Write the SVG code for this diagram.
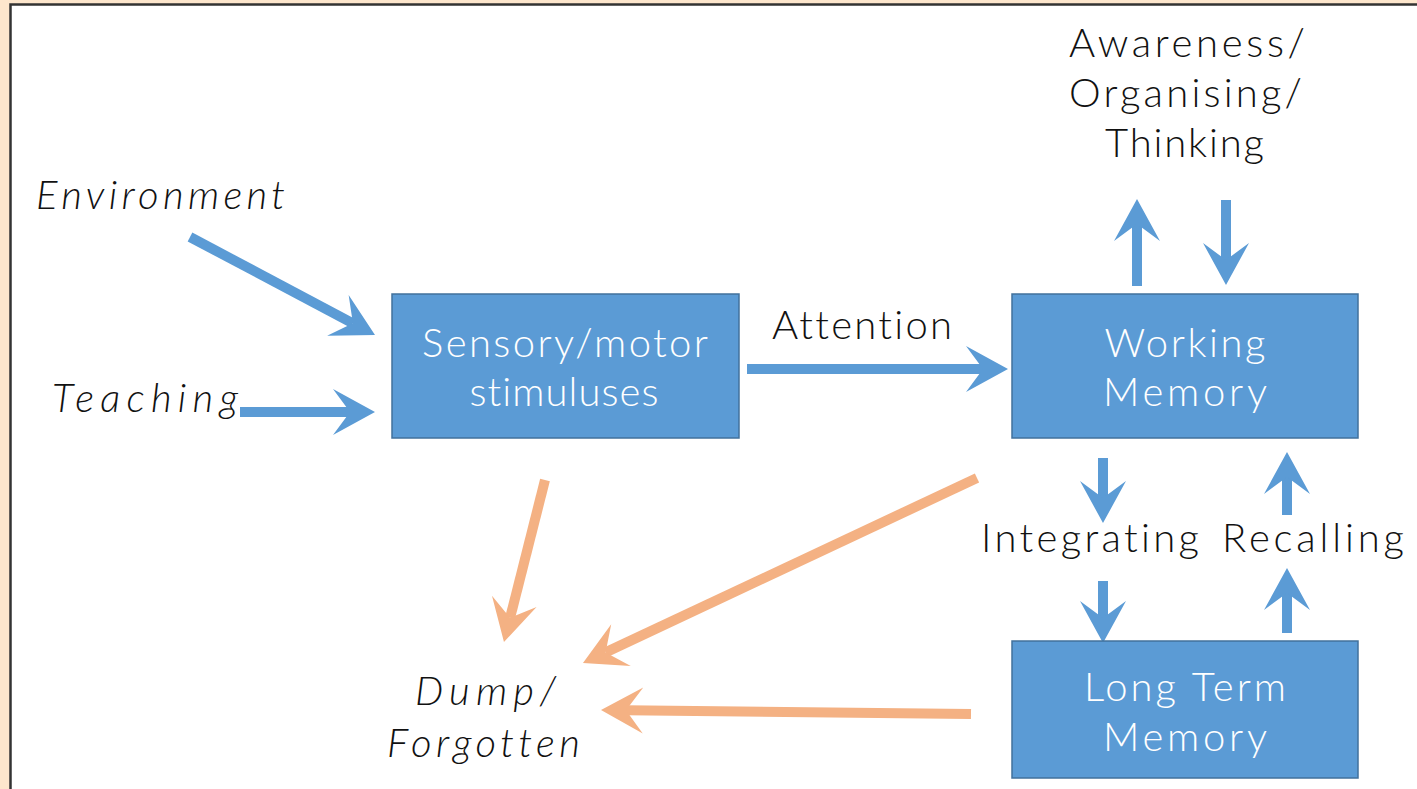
<svg xmlns="http://www.w3.org/2000/svg" width="1417" height="789" viewBox="0 0 1417 789">
  <style>
    .bg { fill: #fde6cc; }
    .panel { fill: #ffffff; stroke: #333333; stroke-width: 2.5; }
    .box { fill: #5b9bd5; stroke: #41719c; stroke-width: 1.5; }
    .lbl { font-family: Lato, "Open Sans", "DejaVu Sans", sans-serif; font-size: 40px; font-weight: 300; fill: #111111; font-variant-ligatures: none; }
    .it { font-style: italic; }
    .inbox { fill: #ffffff; text-anchor: middle; }
    .blue { stroke: #5b9bd5; stroke-width: 10; fill: none; marker-end: url(#headBlue); }
    .orange { stroke: #f4b183; stroke-width: 10; fill: none; marker-end: url(#headOrange); }
  </style>
  <defs>
    <marker id="headBlue" markerUnits="userSpaceOnUse" markerWidth="60" markerHeight="60" refX="0" refY="0" viewBox="-20 -30 50 60" orient="auto" overflow="visible">
      <path d="M25,0 L-17,-23 L0,0 L-17,23 Z" fill="#5b9bd5"/>
    </marker>
    <marker id="headOrange" markerUnits="userSpaceOnUse" markerWidth="60" markerHeight="60" refX="0" refY="0" viewBox="-20 -30 50 60" orient="auto" overflow="visible">
      <path d="M25,0 L-17,-23 L0,0 L-17,23 Z" fill="#f4b183"/>
    </marker>
  </defs>

  <!-- slide frame -->
  <rect class="bg" x="0" y="0" width="1417" height="789"/>
  <rect class="panel" x="10.5" y="4.5" width="1420" height="800"/>

  <!-- connectors -->
  <g id="connectors">
    <line class="blue" x1="190" y1="237" x2="352.9" y2="323.3"/>
    <line class="blue" x1="240" y1="412" x2="350" y2="412"/>
    <line class="blue" x1="747" y1="369" x2="983" y2="369"/>
    <line class="blue" x1="1137" y1="286" x2="1137" y2="224"/>
    <line class="blue" x1="1226" y1="200" x2="1226" y2="260"/>
    <line class="blue" x1="1103" y1="458" x2="1103" y2="498"/>
    <line class="blue" x1="1103" y1="581" x2="1103" y2="618"/>
    <line class="blue" x1="1287" y1="515" x2="1287" y2="477"/>
    <line class="blue" x1="1287" y1="633" x2="1287" y2="593"/>
    <line class="orange" x1="545" y1="480" x2="510.1" y2="617.8"/>
    <line class="orange" x1="977" y1="478" x2="605.6" y2="652.4"/>
    <line class="orange" x1="971" y1="714" x2="626" y2="710.3"/>
  </g>

  <!-- free labels -->
  <g id="awareness">
    <text class="lbl" x="1069" y="57" textLength="236">Awareness/</text>
    <text class="lbl" x="1069" y="107" textLength="233">Organising/</text>
    <text class="lbl" x="1105" y="157" textLength="159">Thinking</text>
  </g>
  <g id="environment">
    <text class="lbl it" x="36" y="209" textLength="249">Environment</text>
  </g>
  <g id="teaching">
    <text class="lbl it" x="52" y="412" textLength="186">Teaching</text>
  </g>
  <g id="attention">
    <text class="lbl" x="772" y="339" textLength="180">Attention</text>
  </g>
  <g id="integrating">
    <text class="lbl" x="981" y="552" textLength="218">Integrating</text>
  </g>
  <g id="recalling">
    <text class="lbl" x="1222" y="552" textLength="182">Recalling</text>
  </g>
  <g id="dump">
    <text class="lbl it" x="415" y="705" textLength="141">Dump/</text>
    <text class="lbl it" x="387" y="757" textLength="193">Forgotten</text>
  </g>

  <!-- boxes -->
  <g id="sensory">
    <rect class="box" x="392" y="294" width="347" height="144"/>
    <text class="lbl inbox" x="565" y="357" textLength="286">Sensory/motor</text>
    <text class="lbl inbox" x="564" y="406" textLength="189">stimuluses</text>
  </g>
  <g id="working-memory">
    <rect class="box" x="1012" y="294" width="346" height="144"/>
    <text class="lbl inbox" x="1185" y="357" textLength="161">Working</text>
    <text class="lbl inbox" x="1185" y="406" textLength="164">Memory</text>
  </g>
  <g id="long-term-memory">
    <rect class="box" x="1012" y="641" width="346" height="137"/>
    <text class="lbl inbox" x="1185" y="701" textLength="202">Long Term</text>
    <text class="lbl inbox" x="1185" y="751" textLength="164">Memory</text>
  </g>
</svg>
